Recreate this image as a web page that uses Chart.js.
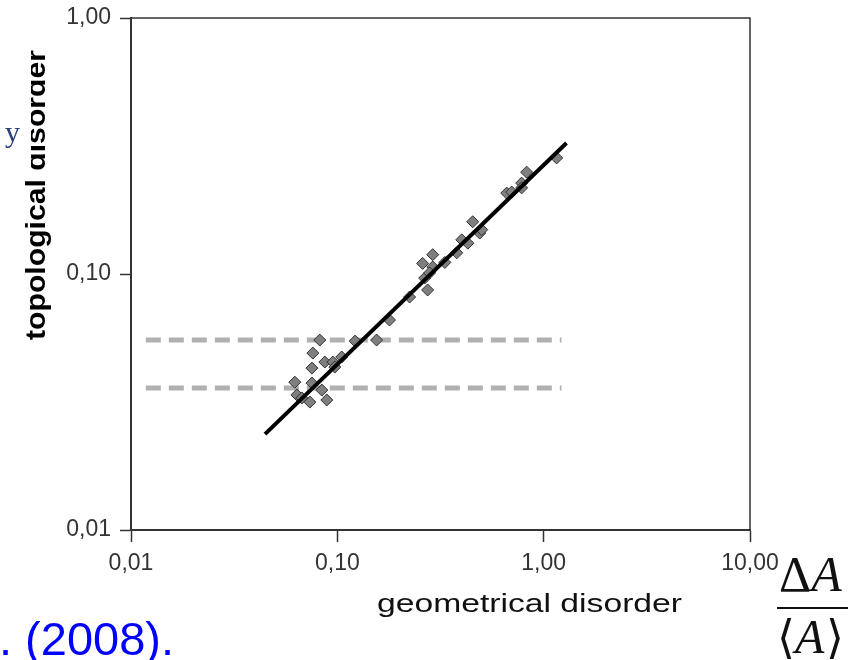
<!DOCTYPE html>
<html>
<head>
<meta charset="utf-8">
<script src="https://cdn.jsdelivr.net/npm/chart.js@4.4.1/dist/chart.umd.min.js"></script>
<style>
  html, body { margin: 0; padding: 0; background: #fff; }
  #wrap { width: 848px; height: 660px; position: relative; }
</style>
</head>
<body>
<div id="wrap"><canvas id="chart1"></canvas></div>
<script>
// values
var xTicks = [0.01, 0.1, 1, 10];
var yTicks = [0.01, 0.1, 1];

var geoDisorder = [0.0822, 0.0761, 0.0753, 0.0870, 0.0951, 0.0972, 0.105, 0.122, 0.155,
  0.0622, 0.0637, 0.0753, 0.0841, 0.0889, 0.0736, 0.0673, 0.179, 0.224, 0.274, 0.265,
  0.259, 0.290, 0.290, 0.280, 0.332, 0.379, 0.401, 0.429, 0.490, 0.453, 0.501, 0.662,
  0.700, 0.782, 0.827, 1.156, 0.782];
var topoDisorder = [0.0552, 0.0491, 0.0429, 0.0453, 0.0453, 0.0433, 0.0474, 0.0547, 0.0552,
  0.0378, 0.0337, 0.0375, 0.0352, 0.0322, 0.0316, 0.0328, 0.0661, 0.0813, 0.0866, 0.0964,
  0.110, 0.119, 0.1065, 0.101, 0.111, 0.121, 0.136, 0.132, 0.1445, 0.160, 0.149, 0.207,
  0.209, 0.2265, 0.250, 0.284, 0.217];

var fitX = [0.0446, 1.29];
var fitY = [0.0237, 0.325];

var dashX = [0.0118, 1.22];
var dashUpperY = 0.0552;
var dashLowerY = 0.0359;

function pairs(xs, ys) {
  return xs.map(function (x, i) { return { x: x, y: ys[i] }; });
}
function flat(xs, y) {
  return xs.map(function (x) { return { x: x, y: y }; });
}
function fmt(v) {
  return Number(v).toFixed(2).replace(".", ",");
}

var tickFont = { family: "Liberation Sans, Arial, sans-serif", size: 23 };

// text that is not part of the axes
function stretchText(ctx, text, x, y, width) {
  var w = ctx.measureText(text).width;
  ctx.save();
  ctx.translate(x, y);
  ctx.scale(width / w, 1);
  ctx.fillText(text, 0, 0);
  ctx.restore();
}

var extras = {
  id: "extras",
  afterDraw: function (chart) {
    var ctx = chart.ctx;
    var a = chart.chartArea;
    ctx.save();
    // top and right edges of the box
    ctx.strokeStyle = "#333";
    ctx.lineWidth = 1.5;
    ctx.beginPath();
    ctx.moveTo(a.left, a.top);
    ctx.lineTo(a.right, a.top);
    ctx.lineTo(a.right, a.bottom);
    ctx.stroke();

    // x title
    ctx.fillStyle = "#111";
    ctx.font = "26px Liberation Sans, Arial, sans-serif";
    ctx.textBaseline = "alphabetic";
    ctx.textAlign = "left";
    stretchText(ctx, "geometrical disorder", 377, 612, 305);

    // y title
    ctx.save();
    ctx.translate(45, 340);
    ctx.rotate(-Math.PI / 2);
    ctx.fillStyle = "#000";
    ctx.font = "bold 28px Liberation Sans, Arial, sans-serif";
    stretchText(ctx, "topological disorder", 0, 0, 290);
    ctx.restore();
    // the slide hides part of the title
    ctx.fillStyle = "#fff";
    ctx.fillRect(0, 40, 31, 133);
    ctx.fillStyle = "#2a3f7a";
    ctx.font = "30px Liberation Serif, DejaVu Serif, serif";
    ctx.fillText("y", 5, 142);

    // citation fragment
    ctx.fillStyle = "#0000ff";
    ctx.font = "47px Liberation Sans, Arial, sans-serif";
    ctx.fillText(". (2008).", -1, 655);

    // fraction
    ctx.fillStyle = "#111";
    ctx.font = "50px Liberation Serif, DejaVu Serif, serif";
    ctx.fillText("\u0394", 779, 591);
    var dw = ctx.measureText("\u0394").width;
    ctx.font = "italic 50px Liberation Serif, DejaVu Serif, serif";
    ctx.fillText("A", 779 + dw, 591);
    ctx.fillRect(777, 607, 71, 2);
    ctx.font = "46px DejaVu Serif, Liberation Serif, serif";
    ctx.fillText("\u27E8", 777, 653);
    ctx.font = "italic 48px Liberation Serif, DejaVu Serif, serif";
    ctx.fillText("A", 795, 653);
    ctx.font = "46px DejaVu Serif, Liberation Serif, serif";
    ctx.fillText("\u27E9", 826, 653);
    ctx.restore();
  }
};

var ctx = document.getElementById("chart1");
var myChart = new Chart(ctx, {
  type: "scatter",
  data: {
    datasets: [
      {
        data: pairs(fitX, fitY),
        showLine: true,
        borderColor: "#000",
        borderWidth: 4,
        pointRadius: 0,
        order: 0,
      },
      {
        data: pairs(geoDisorder, topoDisorder),
        pointStyle: "rectRot",
        pointRadius: 6,
        backgroundColor: "#7f7f7f",
        borderColor: "#333",
        borderWidth: 1,
        order: 1,
      },
      {
        data: flat(dashX, dashUpperY),
        showLine: true,
        borderColor: "#b0b0b0",
        borderWidth: 5,
        borderDash: [15, 8],
        pointRadius: 0,
        order: 2,
      },
      {
        data: flat(dashX, dashLowerY),
        showLine: true,
        borderColor: "#b0b0b0",
        borderWidth: 5,
        borderDash: [15, 8],
        pointRadius: 0,
        order: 2,
      },
    ],
  },
  options: {
    responsive: true,
    maintainAspectRatio: false,
    animation: false,
    layout: { padding: { top: 18, right: 98, left: 0, bottom: 0 } },
    plugins: { legend: { display: false }, tooltip: { enabled: false } },
    scales: {
      x: {
        type: "logarithmic",
        min: 0.01,
        max: 10,
        afterBuildTicks: function (s) {
          s.ticks = xTicks.map(function (v) { return { value: v }; });
        },
        afterFit: function (s) {
          s.height = 130;
          s.paddingLeft = 0;
          s.paddingRight = 0;
        },
        ticks: { callback: fmt, font: tickFont, color: "#333", padding: 8, maxRotation: 0, autoSkip: false },
        grid: { drawOnChartArea: false, tickLength: 12, tickColor: "#333", tickWidth: 1.5 },
        border: { color: "#333", width: 2 },
      },
      y: {
        type: "logarithmic",
        min: 0.01,
        max: 1,
        afterBuildTicks: function (s) {
          s.ticks = yTicks.map(function (v) { return { value: v }; });
        },
        afterFit: function (s) {
          s.width = 131;
          s.paddingTop = 0;
          s.paddingBottom = 0;
        },
        ticks: { callback: fmt, font: tickFont, color: "#333", padding: 9, autoSkip: false },
        grid: { drawOnChartArea: false, tickLength: 11, tickColor: "#333", tickWidth: 1.5 },
        border: { color: "#333", width: 2 },
      },
    },
  },
  plugins: [extras],
});
</script>
</body>
</html>
